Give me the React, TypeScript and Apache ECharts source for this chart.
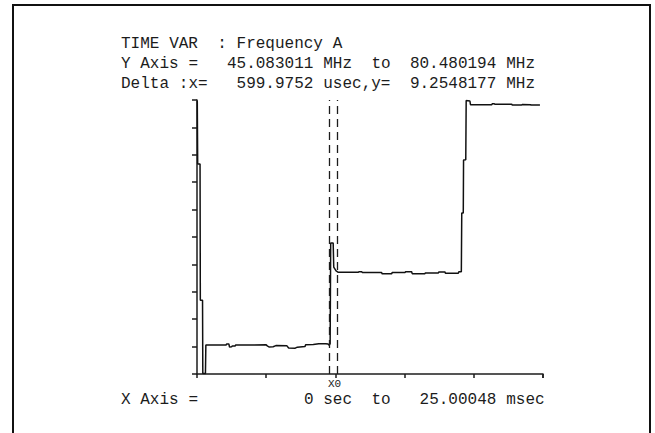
import React, { useEffect, useRef } from "react";
import * as echarts from "echarts";

// ---- Data ----
const X_MIN_MS = 0;
const X_MAX_MS = 25.00048;
const Y_MIN_MHZ = 45.083011;
const Y_MAX_MHZ = 80.480194;
const X_TICK_MS = 5;
const Y_DIVISIONS = 10;

const cursorMs = [9.52, 10.12];

const timeMs = [
  0.02, 0.05, 0.22, 0.24, 0.4, 0.42, 0.61, 0.64, 2.1, 2.15, 2.3, 2.35, 2.5, 2.55, 2.75, 2.8,
  5.0, 5.08, 5.2, 5.5, 5.7, 6.5, 6.62, 7.1, 7.25, 7.8, 7.85, 8.4, 8.8, 9.3, 9.47, 9.55, 9.62,
  9.66, 9.84, 9.88, 10.05, 10.21, 11.66, 11.7, 11.9, 11.95, 13.34, 13.38, 14.07, 14.1, 15.03,
  15.06, 15.51, 15.55, 16.47, 16.5, 17.44, 17.47, 17.92, 17.95, 18.88, 18.92, 19.1, 19.13,
  19.24, 19.26, 19.42, 19.45, 19.72, 19.76, 20.57, 20.6, 21.3, 21.33, 21.48, 21.52, 22.74,
  22.78, 23.46, 23.5, 24.1, 24.14, 24.78,
];
const freqMHz = [
  80.4, 72.2, 72.2, 54.6, 54.6, 45.15, 45.15, 48.83, 48.83, 48.97, 48.97, 48.57, 48.6, 48.7,
  48.7, 48.83, 48.85, 48.72, 48.57, 48.6, 48.75, 48.72, 48.45, 48.42, 48.55, 48.62, 48.85,
  48.9, 48.98, 49.0, 48.95, 48.8, 49.0, 62.0, 62.0, 58.9, 58.4, 58.22, 58.22, 58.3, 58.3,
  58.2, 58.2, 58.02, 58.02, 58.2, 58.2, 58.28, 58.28, 58.05, 58.05, 58.13, 58.13, 58.25,
  58.25, 58.1, 58.1, 58.28, 58.28, 65.88, 65.88, 72.73, 72.75, 80.4, 80.35, 79.88, 79.87,
  79.85, 79.87, 80.0, 80.0, 79.92, 79.92, 79.83, 79.84, 79.9, 79.88, 79.82, 79.84,
];

const headerLines = [
  "TIME VAR  : Frequency A",
  "Y Axis =   45.083011 MHz  to  80.480194 MHz",
  "Delta :x=   599.9752 usec,y=  9.2548177 MHz",
];
const footerLine = "X Axis =           0 sec  to   25.00048 msec";
const cursorLabel = "X0";

const FONT = "'Liberation Mono', 'DejaVu Sans Mono', monospace";
const INK = "#1c1c1c";

function lineToTexts(line: string, x0: number, y: number, cw: number, size: number) {
  const out: any[] = [];
  const re = /\S+/g;
  let m: RegExpExecArray | null;
  while ((m = re.exec(line)) !== null) {
    out.push({
      type: "text",
      x: x0 + m.index * cw,
      y,
      silent: true,
      style: {
        text: m[0],
        fill: INK,
        font: `${size}px ${FONT}`,
        textVerticalAlign: "middle",
        textAlign: "left",
      },
    });
  }
  return out;
}

export default function App() {
  const ref = useRef<HTMLDivElement>(null);

  useEffect(() => {
    if (!ref.current) return;
    const chart = echarts.init(ref.current, undefined, { renderer: "svg" });
    const data = timeMs.map((t, i) => [t, freqMHz[i]]);
    const cw = 9.63;
    const texts: any[] = [];
    headerLines.forEach((l, i) => texts.push(...lineToTexts(l, 121, 44 + i * 20, cw, 16)));
    texts.push(...lineToTexts(footerLine, 121, 400, cw, 16));
    texts.push({
      type: "text",
      x: 334.5,
      y: 383.5,
      silent: true,
      style: {
        text: cursorLabel,
        fill: INK,
        font: `11px ${FONT}`,
        textAlign: "center",
        textVerticalAlign: "middle",
      },
    });

    chart.setOption({
      animation: false,
      backgroundColor: "#ffffff",
      grid: { left: 197, top: 100, width: 346, height: 274, containLabel: false },
      xAxis: {
        type: "value",
        min: X_MIN_MS,
        max: X_MAX_MS,
        interval: X_TICK_MS,
        axisLine: { show: true, lineStyle: { color: INK, width: 1.5 } },
        axisTick: { show: true, inside: false, length: 4, lineStyle: { color: INK, width: 1.5 } },
        axisLabel: { show: false },
        splitLine: { show: false },
      },
      yAxis: [
        {
          type: "value",
          min: 0,
          max: Y_DIVISIONS,
          interval: 1,
          axisLine: { show: true, lineStyle: { color: INK, width: 1.5 } },
          axisTick: { show: true, inside: false, length: 5, lineStyle: { color: INK, width: 1.5 } },
          axisLabel: { show: false },
          splitLine: { show: false },
        },
        {
          type: "value",
          min: Y_MIN_MHZ,
          max: Y_MAX_MHZ,
          show: false,
          splitLine: { show: false },
        },
      ],
      series: [
        {
          type: "line",
          yAxisIndex: 1,
          data,
          showSymbol: false,
          symbol: "none",
          lineStyle: { color: "#111", width: 1.5 },
          silent: true,
          markLine: {
            silent: true,
            symbol: "none",
            label: { show: false },
            lineStyle: { color: INK, width: 1.3, type: [8, 5] },
            data: cursorMs.map((x) => ({ xAxis: x })),
          },
        },
      ],
      graphic: [
        {
          type: "polyline",
          silent: true,
          shape: { points: [[13, 433], [13, 5], [650, 5], [650, 433]] },
          style: { stroke: "#111", lineWidth: 2, fill: null },
        },
        ...texts,
      ],
    });
    return () => chart.dispose();
  }, []);

  return (
    <div
      ref={ref}
      style={{ position: "fixed", left: 0, top: 0, width: 655, height: 433, background: "#fff" }}
    />
  );
}
